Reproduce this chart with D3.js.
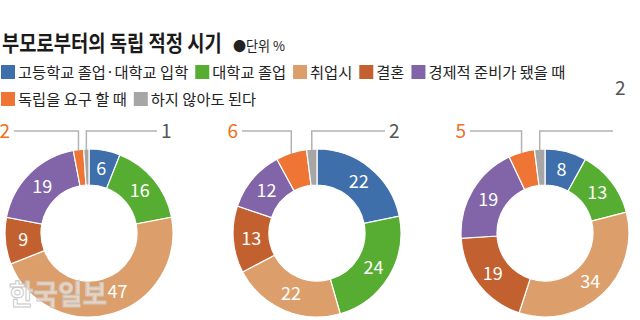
<!DOCTYPE html>
<html><head><meta charset="utf-8">
<script src="https://cdn.jsdelivr.net/npm/d3@7"></script>
<style>
html,body{margin:0;padding:0;background:#fff;}
text{font-family:"Noto Sans CJK KR","Noto Sans",sans-serif;}
</style></head>
<body><svg id="c" width="640" height="320"></svg>
<script>
const title = "부모로부터의 독립 적정 시기";
const unitLabel = "●단위 %";
const categories = ["고등학교 졸업·대학교 입학","대학교 졸업","취업시","결혼","경제적 준비가 됐을 때","독립을 요구 할 때","하지 않아도 된다"];
const colors = ["#3e6fab","#57ad31","#dc9f6c","#c2612f","#8264a9","#ee7533","#a6a6a6"];
const series1 = [6,16,47,9,19,2,1];
const series2 = [22,24,22,13,12,6,2];
const series3 = [8,13,34,19,19,5,2];
const allSeries = [series1, series2, series3];

const svg = d3.select("#c");

// Title (condensed via horizontal scale)
const tg = svg.append("g");
const t = tg.append("text").attr("x",0).attr("y",0)
  .attr("font-size",22).attr("font-weight",700).attr("fill","#1a1a1a").text(title);
const tw = t.node().getComputedTextLength();
tg.attr("transform",`translate(2,51) scale(${220/tw},1)`);

const ug = svg.append("g");
const u = ug.append("text").attr("font-size",13.5).attr("fill","#222").text(unitLabel);
const uw = u.node().getComputedTextLength();
ug.attr("transform",`translate(233,51) scale(${Math.min(1,52/uw)},1)`);

// Legend
const rows = [[0,1,2,3,4],[5,6]];
const rowY = [65, 92];
rows.forEach((r,ri)=>{
  let x = 1;
  r.forEach(i=>{
    svg.append("rect").attr("x",x).attr("y",rowY[ri]).attr("width",14).attr("height",14).attr("fill",colors[i]);
    const tx = svg.append("text").attr("x",x+17).attr("y",rowY[ri]+13)
      .attr("font-size",15.3).attr("fill","#222").text(categories[i]);
    const w = tx.node().getComputedTextLength();
    x += 17 + w + 7;
  });
});

// Donuts
const cxs = [89, 317, 545];
const cy = 233, rOut = 84, rIn = 48, calloutY = 131;
const pie = d3.pie().sort(null).value(d=>d);
const arc = d3.arc().innerRadius(rIn).outerRadius(rOut);
const labelArc = d3.arc().innerRadius(66).outerRadius(66);
const labelNudge = {"0-2":[10,-5]};
const grayLabelAlt = [null,null,{dx:70,y:95}];

allSeries.forEach((vals,si)=>{
  const g = svg.append("g").attr("transform",`translate(${cxs[si]},${cy})`);
  const arcs = pie(vals);
  g.selectAll("path").data(arcs).enter().append("path")
    .attr("d",arc).attr("fill",(d,i)=>colors[i]).attr("stroke","#fff").attr("stroke-width",1.2);
  g.selectAll("text.v").data(arcs.filter((d,i)=>i<5)).enter().append("text")
    .attr("class","v")
    .attr("transform",(d,i)=>{
      const c = labelArc.centroid(d); const n = labelNudge[si+"-"+i]||[0,0];
      return `translate(${c[0]+n[0]},${c[1]+n[1]})`;})
    .attr("text-anchor","middle").attr("dy","0.36em")
    .attr("font-size",18).attr("fill","#fff").text(d=>d.data);
  // callouts
  [5,6].forEach(i=>{
    const d = arcs[i];
    const a = (d.startAngle+d.endAngle)/2;
    const px = rOut*Math.sin(a), py = -rOut*Math.cos(a);
    const ly = calloutY - cy;
    const ex = i===5 ? -75 : 68;
    g.append("path").attr("d",`M${px},${py+1}V${ly}H${ex}`)
      .attr("fill","none").attr("stroke","#b3b3b3").attr("stroke-width",1.5);
    const alt = i===6 ? grayLabelAlt[si] : null;
    g.append("text")
      .attr("x", alt ? alt.dx : (i===5 ? ex-4 : ex+4))
      .attr("y", alt ? alt.y - cy : ly+7)
      .attr("text-anchor", i===5 ? "end" : "start")
      .attr("font-size",19).attr("fill", i===5 ? "#ee7020" : "#555")
      .text(d.data);
  });
});

// Watermark
const wg = svg.append("g");
const wm = wg.append("text").attr("font-size",28).attr("font-weight",700)
  .attr("fill","#fff").attr("fill-opacity",0.55).attr("stroke","#c8c8c8").attr("stroke-width",1)
  .text("한국일보");
const ww = wm.node().getComputedTextLength();
wg.attr("transform",`translate(9,305) scale(${98/ww},1)`);
</script></body></html>
